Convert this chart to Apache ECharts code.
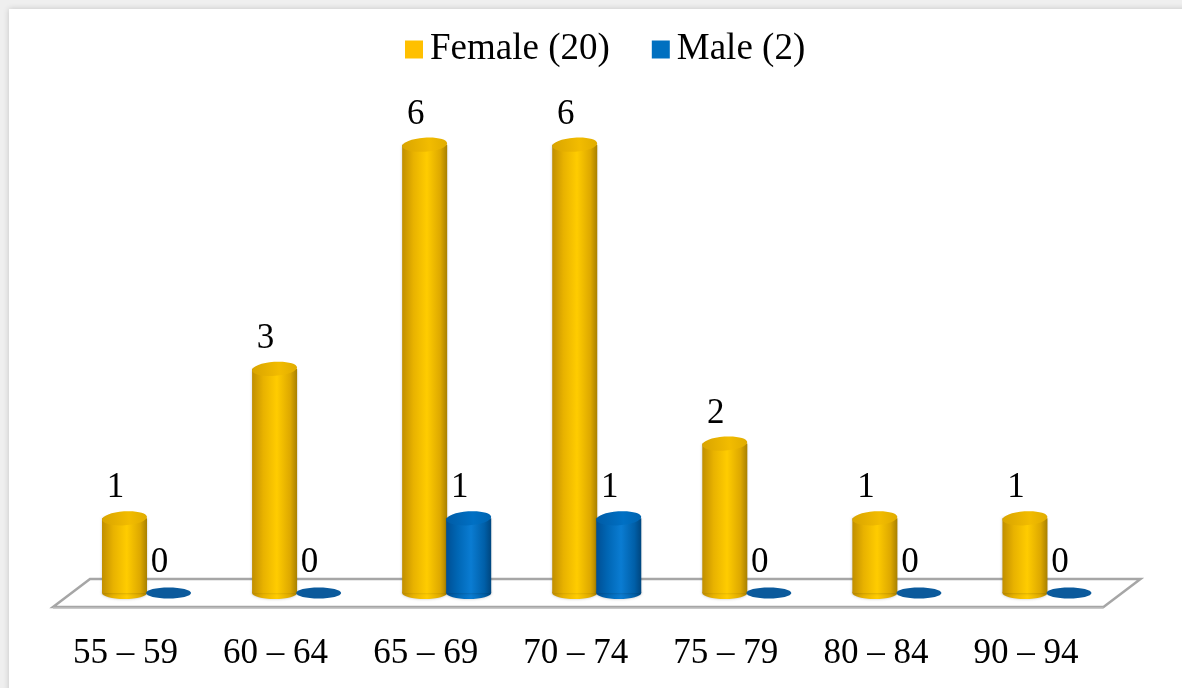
<!DOCTYPE html>
<html>
<head>
<meta charset="utf-8">
<title>Age groups by sex</title>
<script src="https://cdn.jsdelivr.net/npm/echarts@6/dist/echarts.min.js"></script>
<style>
  html, body { margin: 0; padding: 0; background: #fff; }
  #chart { width: 1182px; height: 688px; }
</style>
</head>
<body>
<div id="chart"></div>
<script>
// Age bands and counts per sex
const categories = ['55 – 59', '60 – 64', '65 – 69', '70 – 74', '75 – 79', '80 – 84', '90 – 94'];
const femaleCounts = [1, 3, 6, 6, 2, 1, 1];
const maleCounts = [0, 0, 1, 1, 0, 0, 0];
const seriesNames = ['Female (20)', 'Male (2)'];

const FONT = '"Liberation Serif", "Times New Roman", serif';

const palettes = {
  female: {
    legend: '#FFC000',
    body: [[0, '#C08E00'], [0.25, '#E8B200'], [0.55, '#FFCC00'], [0.85, '#DDA800'], [1, '#A88000']],
    top: [[0, '#D9A400'], [0.6, '#F2BC00'], [1, '#E0AC00']],
    flat: '#D9A400'
  },
  male: {
    legend: '#0070C0',
    body: [[0, '#004F94'], [0.25, '#0066B4'], [0.55, '#0A7CD2'], [0.85, '#005FA8'], [1, '#00467F']],
    top: [[0, '#005CA6'], [0.6, '#0070C4'], [1, '#0064B0']],
    flat: '#0B5A9C'
  }
};

function stops(list) {
  return list.map(function (s) { return { offset: s[0], color: s[1] }; });
}

// Cylinder drawn inside its category band, shifted by offsetFrac of the band width
function cylinderRenderer(offsetFrac, pal) {
  return function (params, api) {
    const i = api.value(0);
    const v = api.value(1);
    const band = api.size([1, 0])[0];
    const base = api.coord([i, 0]);
    const top = api.coord([i, v]);
    const cx = base[0] + offsetFrac * band;
    const w = band * 0.3;
    const rx = w / 2;
    const ry = 6;
    const children = [];
    if (v > 0) {
      const bodyFill = new echarts.graphic.LinearGradient(0, 0, 1, 0, stops(pal.body));
      children.push({
        type: 'ellipse',
        shape: { cx: cx, cy: base[1], rx: rx, ry: ry },
        style: { fill: bodyFill, shadowBlur: 3, shadowColor: 'rgba(0,0,0,0.25)' }
      });
      children.push({
        type: 'rect',
        shape: { x: cx - rx, y: top[1], width: w, height: base[1] - top[1] },
        style: { fill: bodyFill, shadowBlur: 3, shadowColor: 'rgba(0,0,0,0.25)' }
      });
      children.push({
        type: 'ellipse',
        x: cx, y: top[1], rotation: 0.07,
        shape: { cx: 0, cy: 0, rx: rx, ry: ry + 1 },
        style: { fill: new echarts.graphic.LinearGradient(0, 0, 1, 0, stops(pal.top)) }
      });
    } else {
      children.push({
        type: 'ellipse',
        shape: { cx: cx, cy: base[1], rx: rx, ry: 5.5 },
        style: { fill: pal.flat }
      });
    }
    children.push({
      type: 'text',
      x: cx - 9,
      y: top[1] - 30,
      style: {
        text: String(v),
        font: '35px ' + FONT,
        fill: '#000',
        align: 'center',
        verticalAlign: 'middle'
      }
    });
    return { type: 'group', children: children };
  };
}

// Slanted floor plate under the bars, sized from the grid rectangle
function floorRenderer(params, api) {
  const cs = params.coordSys;
  const y0 = cs.y + cs.height;
  const skew = 18.5, depth = 14;
  const left = cs.x, right = cs.x + cs.width;
  return {
    type: 'group',
    children: [{
      type: 'polygon',
      shape: {
        points: [
          [left - skew, y0 + depth],
          [right - skew, y0 + depth],
          [right + skew, y0 - depth],
          [left + skew, y0 - depth]
        ]
      },
      style: { fill: '#fff', stroke: '#A6A6A6', lineWidth: 2.5, lineJoin: 'miter' }
    }, {
      type: 'line',
      shape: { x1: left - skew, y1: y0 + depth + 1, x2: right - skew, y2: y0 + depth + 1 },
      style: { stroke: '#BFBFBF', lineWidth: 1.5 }
    }]
  };
}

const chart = echarts.init(document.getElementById('chart'));

chart.setOption({
  backgroundColor: '#EFEFEF',
  animation: false,
  graphic: [{
    type: 'rect',
    z: -10,
    shape: { x: 9, y: 9, width: 1200, height: 700 },
    style: { fill: '#fff', shadowBlur: 6, shadowColor: 'rgba(0,0,0,0.18)' }
  }],
  legend: {
    data: seriesNames,
    left: 405,
    top: 31,
    padding: 0,
    icon: 'rect',
    itemWidth: 18,
    itemHeight: 18,
    itemGap: 42,
    textStyle: { fontFamily: FONT, fontSize: 37, color: '#000', padding: [0, 0, 0, 2] }
  },
  grid: { left: 71.5, right: 60, top: 70, bottom: 95 },
  xAxis: {
    type: 'category',
    data: categories,
    axisLine: { show: false },
    axisTick: { show: false },
    axisLabel: {
      interval: 0,
      margin: 61,
      fontFamily: FONT,
      fontSize: 35,
      color: '#000',
      verticalAlign: 'middle',
      padding: [0, 42, 0, 0]
    }
  },
  yAxis: {
    type: 'value',
    min: 0,
    max: 7,
    interval: 1,
    show: false,
    splitLine: { show: false }
  },
  series: [{
    type: 'custom',
    name: 'floor',
    z: 1,
    silent: true,
    data: [[0, 0]],
    renderItem: floorRenderer
  }, {
    type: 'custom',
    name: seriesNames[0],
    z: 3,
    itemStyle: { color: palettes.female.legend },
    encode: { x: 0, y: 1 },
    data: femaleCounts.map(function (v, i) { return [i, v]; }),
    renderItem: cylinderRenderer(-0.1467, palettes.female)
  }, {
    type: 'custom',
    name: seriesNames[1],
    z: 4,
    itemStyle: { color: palettes.male.legend },
    encode: { x: 0, y: 1 },
    data: maleCounts.map(function (v, i) { return [i, v]; }),
    renderItem: cylinderRenderer(0.1467, palettes.male)
  }]
});
</script>
</body>
</html>
